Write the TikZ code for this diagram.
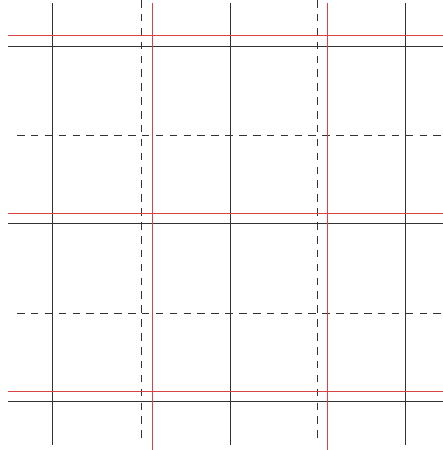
\documentclass[tikz,border=0pt]{standalone}
\usetikzlibrary{calc}

\definecolor{gridred}{RGB}{218,66,66}
\definecolor{gridblack}{RGB}{50,50,55}
\tikzset{
  gridline/.style={line width=0.02cm,draw=gridblack},
  midline/.style={line width=0.02cm,draw=gridblack,dash pattern=on 4.3pt off 3.6pt},
  redline/.style={line width=0.022cm,draw=gridred}
}

\begin{document}
\begin{tikzpicture}[line cap=butt,x=0.02cm,y=-0.02cm]
\useasboundingbox (0,0) rectangle (443,450);
% black grid
\draw[gridline] \foreach \x in {52.5,230.5,405.5} {(\x,3) -- (\x,445)}
  \foreach \y in {46.5,223.5,401.5} {(8,\y) -- (443,\y)};
% dashed middle lines
\draw[midline] \foreach \x in {141.5,317.5} {(\x,0) -- (\x,440)}
  \foreach \y in {135.5,313.5} {(17,\y) -- (443,\y)};
% red lines
\draw[redline] \foreach \x in {152.5,327.5} {(\x,3) -- (\x,450)}
  \foreach \y in {35.5,213.5,391.5} {(8,\y) -- (443,\y)};
\end{tikzpicture}
\end{document}
